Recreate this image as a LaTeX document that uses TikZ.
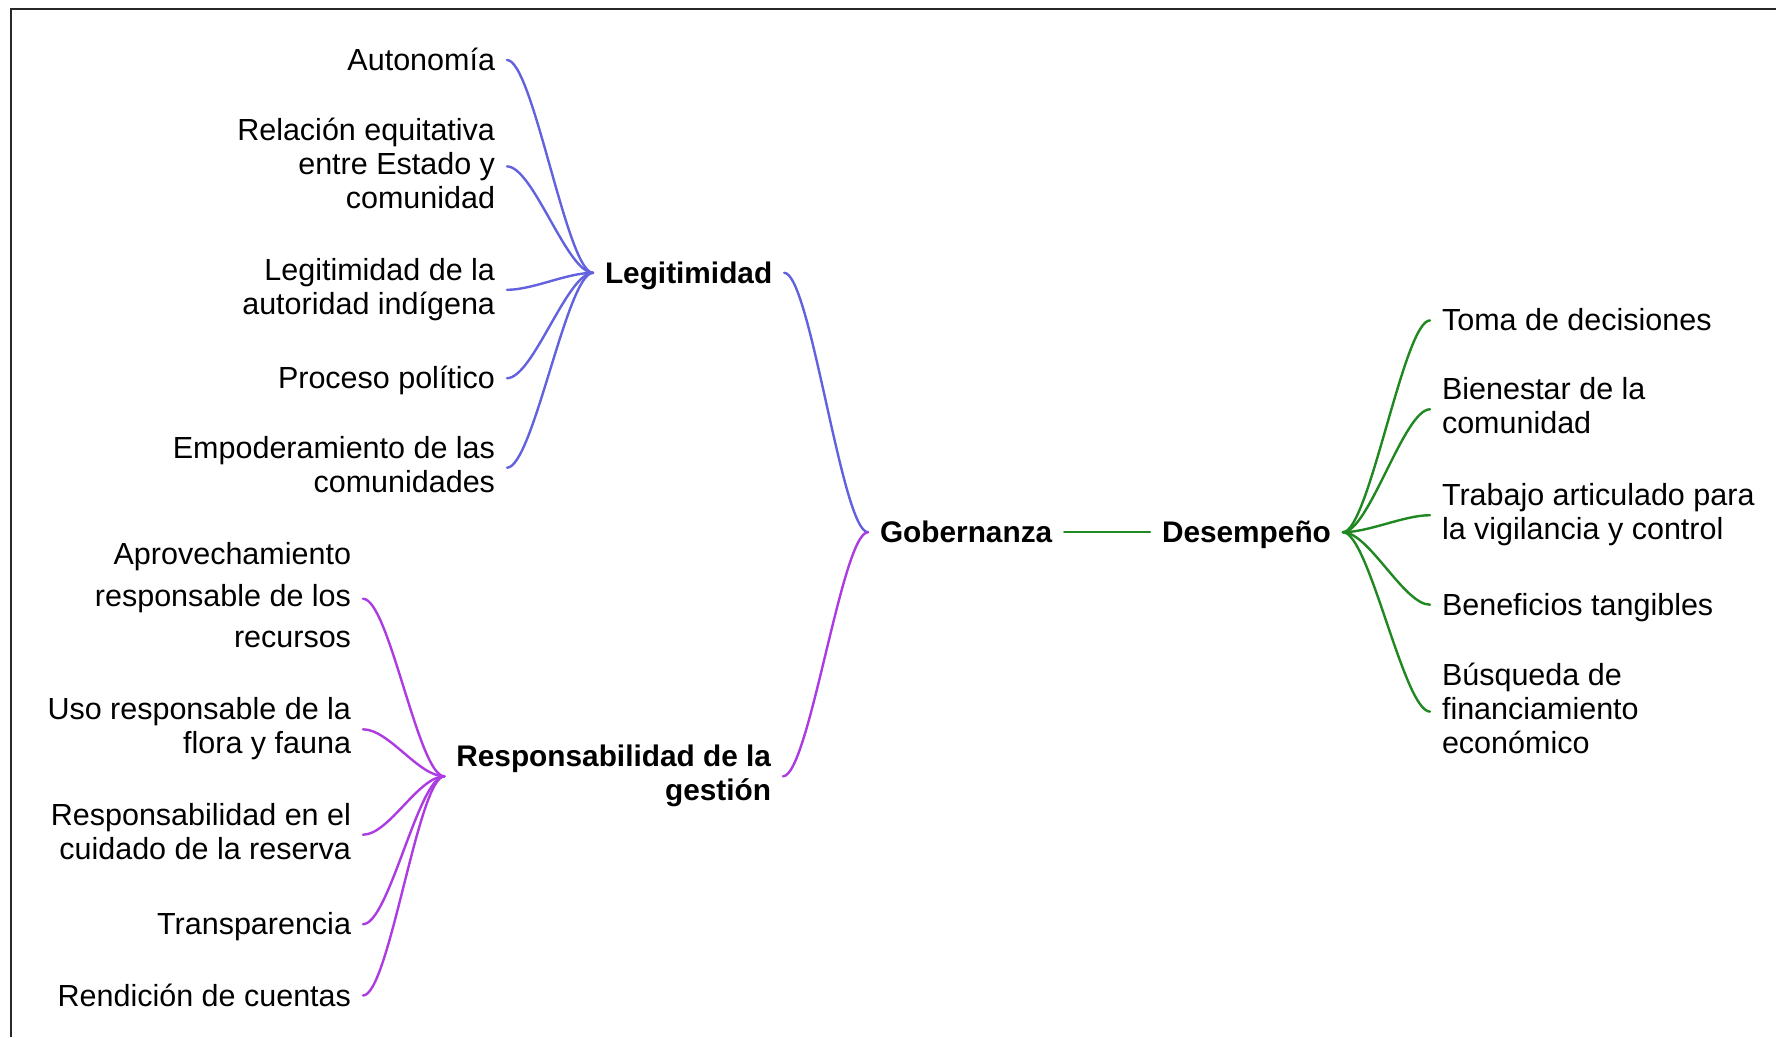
\documentclass[tikz,border=0pt]{standalone}
\usepackage{fontspec}
\setmainfont{Liberation Sans}
\definecolor{legblue}{RGB}{98,98,222}
\definecolor{respurple}{RGB}{172,60,226}
\definecolor{desgreen}{RGB}{32,136,32}
\definecolor{framegray}{RGB}{40,40,40}
\begin{document}
\begin{tikzpicture}[x=1pt,y=-1pt,
  txt/.style={inner sep=0pt, outer xsep=12pt, outer ysep=0pt,
    font=\fontsize{30.5}{34}\selectfont,
    execute at begin node={\rule{0pt}{28pt}},
    execute at end node={\rule[-7pt]{0pt}{7pt}}},
  leafl/.style={txt, anchor=east, align=right},
  leafr/.style={txt, anchor=west, align=left},
  hub/.style={txt, font=\fontsize{29.8}{34}\selectfont\bfseries},
  link/.style={line width=2.4pt, line cap=round},
  branchcurve/.style={to path={.. controls +(26,0) and +(-26,0) .. (\tikztotarget)}},
]
\useasboundingbox (0,0) rectangle (1776,1037);
% outer frame
\draw[framegray, line width=2.2pt] (11,1037) -- (11,9) -- (1776,9);

\begin{scope}[yshift=-1pt]
% central concepts
\node[hub, anchor=west] (gob) at (868,531.2) {Gobernanza};
\node[hub, anchor=west] (des) at (1150,531.2) {Desempeño};
\node[hub, anchor=west] (leg) at (593,271.8) {Legitimidad};
\node[hub, anchor=east, align=right] (res) at (783,775.3) {Responsabilidad de la\\gestión};

% Legitimidad branch
\node[leafl] (aut) at (507,59) {Autonomía};
\node[leafl] (rel) at (507,165.4) {Relación equitativa\\entre Estado y\\comunidad};
\node[leafl] (lai) at (507,288.8) {Legitimidad de la\\autoridad indígena};
\node[leafl] (pro) at (507,377.2) {Proceso político};
\node[leafl] (emp) at (507,466.7) {Empoderamiento de las\\comunidades};

% Responsabilidad branch
\node[leafl, font=\fontsize{30.5}{41.3}\selectfont] (apr) at (363,597.7) {Aprovechamiento\\responsable de los\\recursos};
\node[leafl] (uso) at (363,728.3) {Uso responsable de la\\flora y fauna};
\node[leafl] (rce) at (363,833.7) {Responsabilidad en el\\cuidado de la reserva};
\node[leafl] (tsp) at (363,923.2) {Transparencia};
\node[leafl] (ren) at (363,994.5) {Rendición de cuentas};

% Desempeño branch
\node[leafr] (tom) at (1430,319.4) {Toma de decisiones};
\node[leafr] (bie) at (1430,408.3) {Bienestar de la\\comunidad};
\node[leafr] (tra) at (1430,514.2) {Trabajo articulado para\\la vigilancia y control};
\node[leafr] (ben) at (1430,603.7) {Beneficios tangibles};
\node[leafr] (bus) at (1430,710.6) {Búsqueda de\\financiamiento\\económico};

% connectors
\begin{scope}[link, legblue]
  \foreach \n in {aut,rel,lai,pro,emp}
    \draw (\n.east) to[branchcurve] (leg.west);
  \draw (leg.east) to[branchcurve] (gob.west);
\end{scope}
\begin{scope}[link, respurple]
  \foreach \n in {apr,uso,rce,tsp,ren}
    \draw (\n.east) to[branchcurve] (res.west);
  \draw (res.east) to[branchcurve] (gob.west);
\end{scope}
\begin{scope}[link, desgreen]
  \draw (gob.east) -- (des.west);
  \foreach \n in {tom,bie,tra,ben,bus}
    \draw (des.east) to[branchcurve] (\n.west);
\end{scope}
\end{scope}
\end{tikzpicture}
\end{document}
